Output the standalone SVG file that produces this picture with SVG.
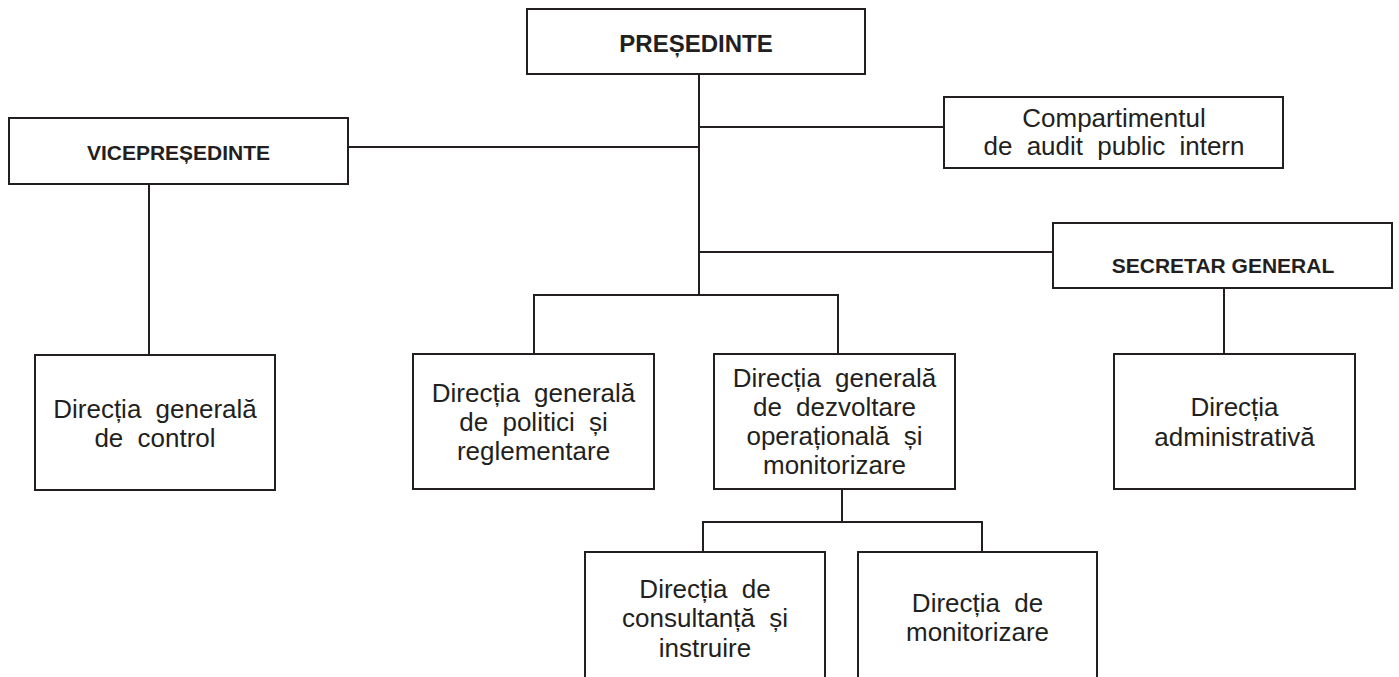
<svg xmlns="http://www.w3.org/2000/svg" width="1399" height="677" viewBox="0 0 1399 677">
<style>
  .box { fill: #ffffff; stroke: #231f20; stroke-width: 2; }
  .line { fill: none; stroke: #231f20; stroke-width: 2; }
  .t { font-family: "Liberation Sans", Arial, sans-serif; font-size: 26px; fill: #231f20; text-anchor: middle; word-spacing: 7px; }
  .b { font-family: "Liberation Sans", Arial, sans-serif; font-weight: bold; fill: #231f20; text-anchor: middle; }
</style>
<rect x="0" y="0" width="1399" height="677" fill="#ffffff"/>
<g id="connectors">
  <path class="line" d="M699 74 V295"/>
  <path class="line" d="M348 147 H699"/>
  <path class="line" d="M699 127 H944"/>
  <path class="line" d="M699 252 H1053"/>
  <path class="line" d="M534 354 V295 H838 V354"/>
  <path class="line" d="M149 184 V355"/>
  <path class="line" d="M1224 288 V354"/>
  <path class="line" d="M842 489 V522"/>
  <path class="line" d="M703 552 V522 H982 V552"/>
</g>
<g id="presedinte">
  <rect class="box" x="527" y="9" width="338" height="65"/>
  <text class="b" x="696" y="52" font-size="24">PREȘEDINTE</text>
</g>
<g id="vicepresedinte">
  <rect class="box" x="9" y="118" width="339" height="66"/>
  <text class="b" x="178.5" y="160" font-size="21">VICEPREȘEDINTE</text>
</g>
<g id="audit">
  <rect class="box" x="944" y="97" width="339" height="71"/>
  <text class="t" x="1114" y="127">Compartimentul</text>
  <text class="t" x="1114" y="155">de audit public intern</text>
</g>
<g id="secretar">
  <rect class="box" x="1053" y="223" width="339" height="65"/>
  <text class="b" x="1223" y="273" font-size="21">SECRETAR GENERAL</text>
</g>
<g id="control">
  <rect class="box" x="35" y="355" width="240" height="135"/>
  <text class="t" x="155" y="418">Direcția generală</text>
  <text class="t" x="155" y="447">de control</text>
</g>
<g id="politici">
  <rect class="box" x="413" y="354" width="241" height="135"/>
  <text class="t" x="533.5" y="402">Direcția generală</text>
  <text class="t" x="533.5" y="431">de politici și</text>
  <text class="t" x="533.5" y="460">reglementare</text>
</g>
<g id="dezvoltare">
  <rect class="box" x="714" y="354" width="241" height="135"/>
  <text class="t" x="834.5" y="387">Direcția generală</text>
  <text class="t" x="834.5" y="416">de dezvoltare</text>
  <text class="t" x="834.5" y="445">operațională și</text>
  <text class="t" x="834.5" y="474">monitorizare</text>
</g>
<g id="administrativa">
  <rect class="box" x="1114" y="354" width="241" height="135"/>
  <text class="t" x="1234.5" y="416">Direcția</text>
  <text class="t" x="1234.5" y="446">administrativă</text>
</g>
<g id="consultanta">
  <rect class="box" x="585" y="552" width="240" height="140"/>
  <text class="t" x="705" y="598">Direcția de</text>
  <text class="t" x="705" y="627">consultanță și</text>
  <text class="t" x="705" y="657">instruire</text>
</g>
<g id="monitorizare">
  <rect class="box" x="858" y="552" width="239" height="140"/>
  <text class="t" x="977.5" y="612">Direcția de</text>
  <text class="t" x="977.5" y="641">monitorizare</text>
</g>
</svg>
